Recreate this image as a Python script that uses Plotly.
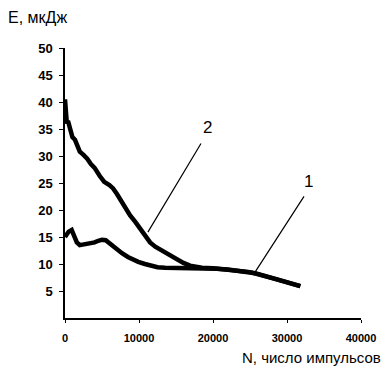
import plotly.graph_objects as go

# Curve 1 (lower)
n1 = [0, 200, 500, 900, 1200, 1600, 2000, 2500, 3000, 3500, 4000, 4500, 5000, 5500,
      6000, 6500, 7000, 7700, 8500, 9200, 9900, 10800, 11750, 12500, 13500, 15000,
      16000, 17500, 19000, 20500, 22000, 23500, 25000, 25700, 27000, 28500, 30000,
      31000, 31800]
e1 = [15.0, 15.5, 16.0, 16.3, 15.5, 14.0, 13.5, 13.6, 13.9, 13.8, 14.0, 14.3, 14.5, 14.4,
      13.8, 13.2, 12.7, 12.0, 11.3, 10.8, 10.4, 10.0, 9.6, 9.4, 9.3, 9.3,
      9.3, 9.2, 9.2, 9.1, 9.0, 8.8, 8.5, 8.3, 7.8, 7.2, 6.6,
      6.2, 5.9]

# Curve 2 (upper)
n2 = [0, 100, 250, 400, 700, 1000, 1350, 1700, 2000, 2500, 3000, 3500, 4000, 4700,
      5300, 6000, 6500, 7000, 7500, 8000, 8800, 9500, 10200, 11000, 11500, 12200,
      13200, 14200, 15200, 16000, 16900, 17500, 18500, 20000, 22000, 25000, 28500, 31800]
e2 = [40.5, 38.0, 36.0, 36.5, 34.5, 33.5, 33.0, 31.5, 30.8, 30.2, 29.5, 28.5, 27.8, 26.3,
      25.2, 24.6, 24.0, 23.0, 21.8, 20.6, 19.0, 17.8, 16.5, 15.0, 14.0, 13.2,
      12.4, 11.4, 10.7, 10.2, 9.7, 9.5, 9.3, 9.2, 9.0, 8.5, 7.2, 5.9]

y_ticks = [5, 10, 15, 20, 25, 30, 35, 40, 45, 50]
x_ticks = [0, 10000, 20000, 30000, 40000]

# Pointer labels
labels = ["1", "2"]
label_n = [32840, 19300]
label_e = [25.2, 35.2]
tail_n = [32430, 18500]
tail_e = [22.8, 32.6]
tip_n = [25680, 11200]
tip_e = [8.5, 15.9]

fam = "Liberation Sans, Arial, sans-serif"

fig = go.Figure()
fig.add_trace(go.Scatter(x=n1, y=e1, mode="lines", line=dict(color="black", width=4.5),
                         showlegend=False))
fig.add_trace(go.Scatter(x=n2, y=e2, mode="lines", line=dict(color="black", width=4.5),
                         showlegend=False))

for i, lab in enumerate(labels):
    fig.add_annotation(x=tip_n[i], y=tip_e[i], ax=tail_n[i], ay=tail_e[i],
                       xref="x", yref="y", axref="x", ayref="y",
                       showarrow=True, arrowhead=0, arrowwidth=1.2, arrowcolor="black",
                       text="")
    fig.add_annotation(x=label_n[i], y=label_e[i], xref="x", yref="y", text=lab,
                       showarrow=False, font=dict(family=fam, size=17, color="black"))

fig.add_annotation(x=-65 / 296, y=1 + 30 / 270, xref="paper", yref="paper",
                   text="E, мкДж", showarrow=False, xanchor="left", yanchor="middle",
                   xshift=6, font=dict(family=fam, size=16, color="black"))
fig.add_annotation(x=1 + 22 / 296, y=-39 / 270, xref="paper", yref="paper",
                   text="N, число импульсов", showarrow=False, xanchor="right",
                   yanchor="middle", font=dict(family=fam, size=15, color="black"))

fig.update_layout(
    width=388, height=373,
    margin=dict(l=65, r=27, t=48, b=55),
    paper_bgcolor="white", plot_bgcolor="white",
    font=dict(family=fam, color="black"),
)

fig.update_xaxes(range=[0, 40000], tickvals=x_ticks,
                 ticktext=["<b>%d</b>" % v for v in x_ticks],
                 showgrid=False, zeroline=False, showline=True, linecolor="black",
                 linewidth=1.5, ticks="outside", ticklen=3, tickcolor="black",
                 ticklabelstandoff=6,
                 tickfont=dict(family=fam, size=11, color="black"))
fig.update_yaxes(range=[0, 50], tickvals=y_ticks,
                 ticktext=["<b>%d</b>" % v for v in y_ticks],
                 showgrid=False, zeroline=False, showline=True, linecolor="black",
                 linewidth=1.5, ticks="outside", ticklen=4, tickcolor="black",
                 ticklabelstandoff=4,
                 tickfont=dict(family=fam, size=13, color="black"))

fig.write_html("out.html")
